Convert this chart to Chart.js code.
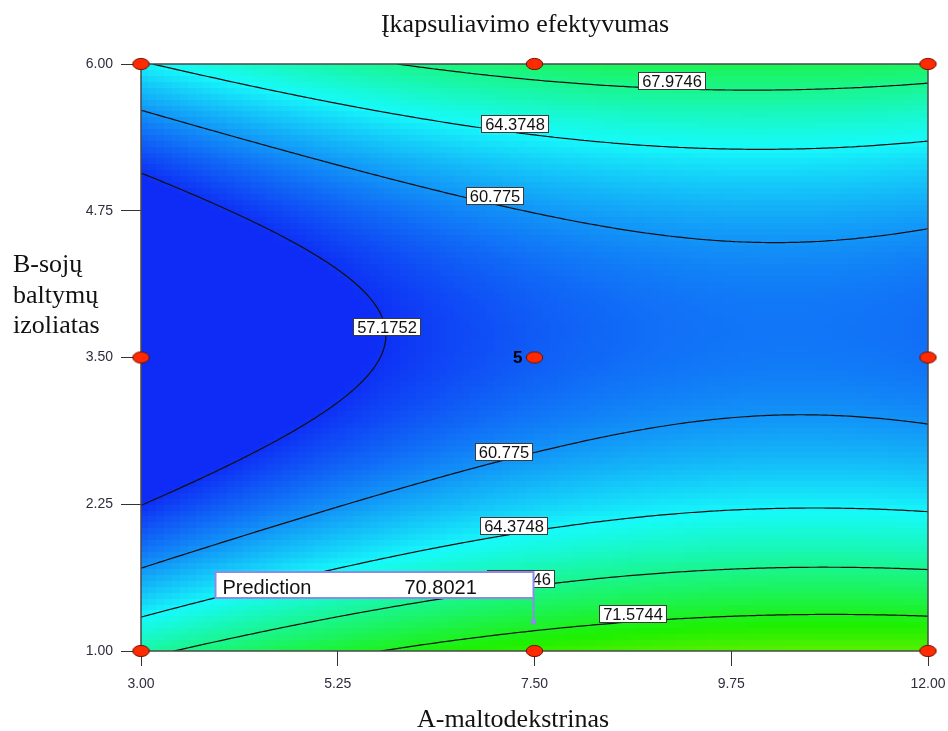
<!DOCTYPE html>
<html>
<head>
<meta charset="utf-8">
<title>Įkapsuliavimo efektyvumas</title>
<script src="https://cdn.jsdelivr.net/npm/chart.js@4.4.1/dist/chart.umd.min.js"></script>
<style>
  html, body { margin: 0; padding: 0; background: #ffffff; }
  #wrap { width: 948px; height: 731px; }
</style>
</head>
<body>
<div id="wrap"><canvas id="chart" width="948" height="731"></canvas></div>
<script>
// Fitted quadratic model (actual factor units): Y = b0 + bA*A + bB*B + bAB*A*B + bAA*A^2 + bBB*B^2
const modelTerms = ['Intercept', 'A', 'B', 'AB', 'A^2', 'B^2'];
const modelCoef = [73.004, 2.656, -14.479, -0.0484, -0.119, 2.0];

// Contour levels shown on the plot
const contourLevels = [57.1752, 60.775, 64.3748, 67.9746, 71.5744];

// Factor ranges and tick values
const xRange = [3, 12];
const yRange = [1, 6];
const xTickValues = [3.00, 5.25, 7.50, 9.75, 12.00];
const yTickValues = [1.00, 2.25, 3.50, 4.75, 6.00];

// Design points (A, B) and replicate counts
const designA = [3, 7.5, 12, 3, 7.5, 12, 3, 7.5, 12];
const designB = [1, 1, 1, 3.5, 3.5, 3.5, 6, 6, 6];
const designReps = [1, 1, 1, 1, 5, 1, 1, 1, 1];

// Prediction flag
const predictionAt = [7.5, 1.25];
const predictionValue = 70.8021;

// Texts
const titleText = 'Įkapsuliavimo efektyvumas';
const xTitleText = 'A-maltodekstrinas';
const yTitleLines = ['B-sojų', 'baltymų', 'izoliatas'];

// ---- placement of the contour labels (level, A position, branch of the curve) ----
const contourLabelSpots = [
  { level: 67.9746, a: 9.07, branch: 'upper' },
  { level: 64.3748, a: 7.27, branch: 'upper' },
  { level: 60.775,  a: 7.04, branch: 'upper' },
  { level: 57.1752, a: 5.81, branch: 'nose' },
  { level: 60.775,  a: 7.15, branch: 'lower' },
  { level: 64.3748, a: 7.26, branch: 'lower' },
  { level: 67.9746, a: 7.34, branch: 'lower' },
  { level: 71.5744, a: 8.62, branch: 'lower' }
];

// ---- colour ramp: blue -> cyan -> green -> yellow ----
const rampStops = [
  [57.0, [14, 44, 245]],
  [64.5, [22, 250, 250]],
  [72.5, [30, 240, 0]],
  [80.5, [240, 240, 0]]
];

function surface(a, b) {
  const c = modelCoef;
  return c[0] + c[1] * a + c[2] * b + c[3] * a * b + c[4] * a * a + c[5] * b * b;
}

function rampColor(v) {
  if (v <= rampStops[0][0]) return 'rgb(' + rampStops[0][1].join(',') + ')';
  for (let k = 0; k < rampStops.length - 1; k++) {
    const [v0, c0] = rampStops[k];
    const [v1, c1] = rampStops[k + 1];
    if (v <= v1) {
      const t = (v - v0) / (v1 - v0);
      const c = c0.map((x, i) => Math.round(x + t * (c1[i] - x)));
      return 'rgb(' + c.join(',') + ')';
    }
  }
  return 'rgb(' + rampStops[rampStops.length - 1][1].join(',') + ')';
}

// marching squares over the factor space
function traceContour(level, nA, nB, a0, a1, b0, b1) {
  const segs = [];
  const da = (a1 - a0) / nA, db = (b1 - b0) / nB;
  const g = [];
  for (let i = 0; i <= nA; i++) {
    const row = [];
    for (let j = 0; j <= nB; j++) row.push(surface(a0 + i * da, b0 + j * db));
    g.push(row);
  }
  const cross = (pa, pb, va, vb) => {
    const t = (level - va) / (vb - va);
    return [pa[0] + t * (pb[0] - pa[0]), pa[1] + t * (pb[1] - pa[1])];
  };
  for (let i = 0; i < nA; i++) {
    for (let j = 0; j < nB; j++) {
      const p = [
        [a0 + i * da, b0 + j * db],
        [a0 + (i + 1) * da, b0 + j * db],
        [a0 + (i + 1) * da, b0 + (j + 1) * db],
        [a0 + i * da, b0 + (j + 1) * db]
      ];
      const v = [g[i][j], g[i + 1][j], g[i + 1][j + 1], g[i][j + 1]];
      const pts = [];
      for (let k = 0; k < 4; k++) {
        const k2 = (k + 1) % 4;
        if ((v[k] < level) !== (v[k2] < level)) pts.push(cross(p[k], p[k2], v[k], v[k2]));
      }
      if (pts.length === 2) segs.push(pts);
      else if (pts.length === 4) { segs.push([pts[0], pts[1]]); segs.push([pts[2], pts[3]]); }
    }
  }
  return segs;
}

// B on a contour at a given A (solves the quadratic in B)
function contourB(level, a, branch) {
  const c = modelCoef;
  const qa = c[5], qb = c[2] + c[3] * a, qc = c[0] + c[1] * a + c[4] * a * a - level;
  const disc = qb * qb - 4 * qa * qc;
  if (branch === 'nose' || disc < 0) return -qb / (2 * qa);
  const r = Math.sqrt(disc);
  return branch === 'upper' ? (-qb + r) / (2 * qa) : (-qb - r) / (2 * qa);
}

const SANS = '"Liberation Sans", Arial, sans-serif';
const SERIF = '"Liberation Serif", "Times New Roman", serif';

// filled surface, contour lines, contour labels and plot frame
const surfacePlugin = {
  id: 'surfacePlugin',
  beforeDatasetsDraw(chart) {
    const { ctx, chartArea: ca, scales: { x, y } } = chart;
    const a0 = x.min, a1 = x.max, b0 = y.min, b1 = y.max;
    ctx.save();
    ctx.beginPath();
    ctx.rect(ca.left, ca.top, ca.right - ca.left, ca.bottom - ca.top);
    ctx.clip();

    // cells
    const nx = 100, ny = 100;
    for (let i = 0; i < nx; i++) {
      const aL = a0 + (a1 - a0) * i / nx, aR = a0 + (a1 - a0) * (i + 1) / nx;
      const pxL = Math.floor(x.getPixelForValue(aL));
      const pxR = Math.ceil(x.getPixelForValue(aR));
      for (let j = 0; j < ny; j++) {
        const bL = b0 + (b1 - b0) * j / ny, bH = b0 + (b1 - b0) * (j + 1) / ny;
        const pyT = Math.floor(y.getPixelForValue(bH));
        const pyB = Math.ceil(y.getPixelForValue(bL));
        ctx.fillStyle = rampColor(surface((aL + aR) / 2, (bL + bH) / 2));
        ctx.fillRect(pxL, pyT, pxR - pxL, pyB - pyT);
      }
    }

    // contour lines
    ctx.strokeStyle = '#101010';
    ctx.lineWidth = 1.2;
    ctx.lineCap = 'round';
    ctx.lineJoin = 'round';
    contourLevels.forEach(level => {
      const segs = traceContour(level, 240, 180, a0, a1, b0, b1);
      ctx.beginPath();
      segs.forEach(s => {
        ctx.moveTo(x.getPixelForValue(s[0][0]), y.getPixelForValue(s[0][1]));
        ctx.lineTo(x.getPixelForValue(s[1][0]), y.getPixelForValue(s[1][1]));
      });
      ctx.stroke();
    });
    ctx.restore();

    // contour labels
    ctx.save();
    ctx.font = '16.5px ' + SANS;
    ctx.textAlign = 'center';
    ctx.textBaseline = 'middle';
    contourLabelSpots.forEach(spot => {
      const txt = String(spot.level);
      const w = Math.round(ctx.measureText(txt).width + 7);
      const h = 17;
      const cx = x.getPixelForValue(spot.a);
      const lineY = y.getPixelForValue(contourB(spot.level, spot.a, spot.branch));
      const top = Math.round(lineY - h) + 0.5;
      const left = Math.round(cx - w / 2) + 0.5;
      ctx.fillStyle = '#ffffff';
      ctx.fillRect(left, top, w, h);
      ctx.strokeStyle = '#3a3a3a';
      ctx.lineWidth = 1;
      ctx.strokeRect(left, top, w, h);
      ctx.fillStyle = '#111111';
      ctx.fillText(txt, left + w / 2, top + h / 2 + 1);
    });
    ctx.restore();

    // frame
    ctx.save();
    ctx.strokeStyle = '#4a4a4a';
    ctx.lineWidth = 1.5;
    ctx.strokeRect(ca.left, ca.top, ca.right - ca.left, ca.bottom - ca.top);
    ctx.restore();
  },
  afterDatasetsDraw(chart) {
    // replicate counts beside design points
    const { ctx, scales: { x, y } } = chart;
    ctx.save();
    ctx.font = 'bold 17px ' + SANS;
    ctx.fillStyle = '#000000';
    ctx.textAlign = 'right';
    ctx.textBaseline = 'middle';
    designReps.forEach((n, i) => {
      if (n > 1) ctx.fillText(String(n), x.getPixelForValue(designA[i]) - 12, y.getPixelForValue(designB[i]) + 1);
    });
    ctx.restore();
  },
  afterDraw(chart) {
    const { ctx, scales: { x, y } } = chart;
    // prediction flag
    const px = Math.round(x.getPixelForValue(predictionAt[0])) - 1.5;
    const py = Math.round(y.getPixelForValue(predictionAt[1]));
    const boxW = 318, boxH = 26, gap = 24;
    const bx = px - boxW, by = py - gap - boxH;
    ctx.save();
    ctx.strokeStyle = '#8c8ce8';
    ctx.fillStyle = '#8c8ce8';
    ctx.lineWidth = 2;
    ctx.beginPath();
    ctx.moveTo(px, py - gap);
    ctx.lineTo(px, py);
    ctx.stroke();
    ctx.fillRect(px - 2.5, py - 2.5, 5, 5);
    ctx.fillStyle = '#ffffff';
    ctx.fillRect(bx, by, boxW, boxH);
    ctx.strokeRect(bx, by, boxW, boxH);
    ctx.fillStyle = '#111111';
    ctx.font = '20px ' + SANS;
    ctx.textAlign = 'left';
    ctx.textBaseline = 'alphabetic';
    ctx.fillText('Prediction', bx + 7, by + 22);
    ctx.fillText(predictionValue.toFixed(4), bx + 189, by + 22);
    ctx.restore();

    // titles
    ctx.save();
    ctx.fillStyle = '#111111';
    ctx.font = '26px ' + SERIF;
    ctx.textBaseline = 'alphabetic';
    ctx.textAlign = 'center';
    ctx.fillText(titleText, 525, 32);
    ctx.fillText(xTitleText, 513, 727);
    ctx.textAlign = 'left';
    yTitleLines.forEach((t, i) => ctx.fillText(t, 13, 272 + i * 30.5));
    ctx.restore();
  }
};

// red elliptical marker for design points
function makeEllipseMarker() {
  const c = document.createElement('canvas');
  c.width = 19; c.height = 14;
  const g = c.getContext('2d');
  g.beginPath();
  g.ellipse(9.5, 7, 8.2, 5.6, 0, 0, Math.PI * 2);
  g.fillStyle = '#ff2a00';
  g.fill();
  g.lineWidth = 1;
  g.strokeStyle = '#6a1000';
  g.stroke();
  return c;
}

const marker = makeEllipseMarker();

new Chart(document.getElementById('chart'), {
  type: 'scatter',
  data: {
    datasets: [{
      label: 'Design points',
      data: designA.map((a, i) => ({ x: a, y: designB[i] })),
      pointStyle: marker,
      pointRadius: 7,
      clip: false,
      showLine: false
    }]
  },
  options: {
    responsive: false,
    animation: false,
    devicePixelRatio: 1,
    events: [],
    layout: { padding: { top: 64, right: 20, left: 0, bottom: 0 } },
    plugins: { legend: { display: false }, tooltip: { enabled: false }, title: { display: false } },
    scales: {
      x: {
        type: 'linear',
        position: 'bottom',
        min: xRange[0],
        max: xRange[1],
        afterBuildTicks: s => { s.ticks = xTickValues.map(v => ({ value: v })); },
        afterFit: s => { s.height = 80; s.paddingLeft = 0; s.paddingRight = 0; },
        ticks: {
          callback: v => Number(v).toFixed(2),
          font: { family: SANS, size: 14 },
          color: '#2e2e3e',
          padding: 10,
          maxRotation: 0,
          autoSkip: false
        },
        grid: { drawOnChartArea: false, tickLength: 15, color: '#333333', tickWidth: 1 },
        border: { display: false }
      },
      y: {
        type: 'linear',
        position: 'left',
        min: yRange[0],
        max: yRange[1],
        afterBuildTicks: s => { s.ticks = yTickValues.map(v => ({ value: v })); },
        afterFit: s => { s.width = 141; s.paddingTop = 0; s.paddingBottom = 0; },
        ticks: {
          callback: v => Number(v).toFixed(2),
          font: { family: SANS, size: 14 },
          color: '#2e2e3e',
          padding: 8,
          autoSkip: false
        },
        grid: { drawOnChartArea: false, tickLength: 20, color: '#333333', tickWidth: 1 },
        border: { display: false }
      }
    }
  },
  plugins: [surfacePlugin]
});
</script>
</body>
</html>
